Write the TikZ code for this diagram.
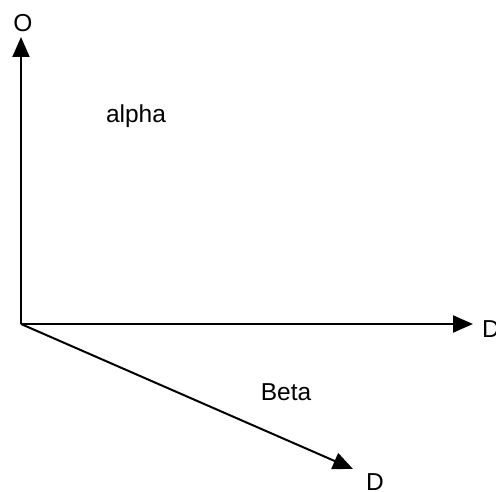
\documentclass[tikz,border=0pt]{standalone}
\usepackage{fontspec}
\setmainfont{Liberation Sans}
\usetikzlibrary{arrows.meta}

\begin{document}
\begin{tikzpicture}[x=1pt,y=-1pt,>={Triangle[length=20pt,width=17pt]},
  axis/.style={->,line width=2pt},
  lbl/.style={inner sep=0pt,font=\fontsize{24.5}{28}\selectfont}]
\useasboundingbox (0,0) rectangle (496,492);
\coordinate (orig) at (21,324);
\coordinate (tipO) at (21,37);
\coordinate (tipD) at (473,324);
\coordinate (tipB) at (353,469);
\node[lbl] (O) at (23,23) {O};
\node[lbl,anchor=west] (D1) at (482,329) {D};
\node[lbl] (D2) at (375,482) {D};
\node[lbl,anchor=base] (alpha) at (136,123) {alpha};
\node[lbl,anchor=base] (beta) at (286,400) {Beta};
\draw[axis] (orig) -- (tipO);
\draw[axis] (orig) -- (tipD);
\draw[axis] (orig) -- (tipB);
\end{tikzpicture}
\end{document}
